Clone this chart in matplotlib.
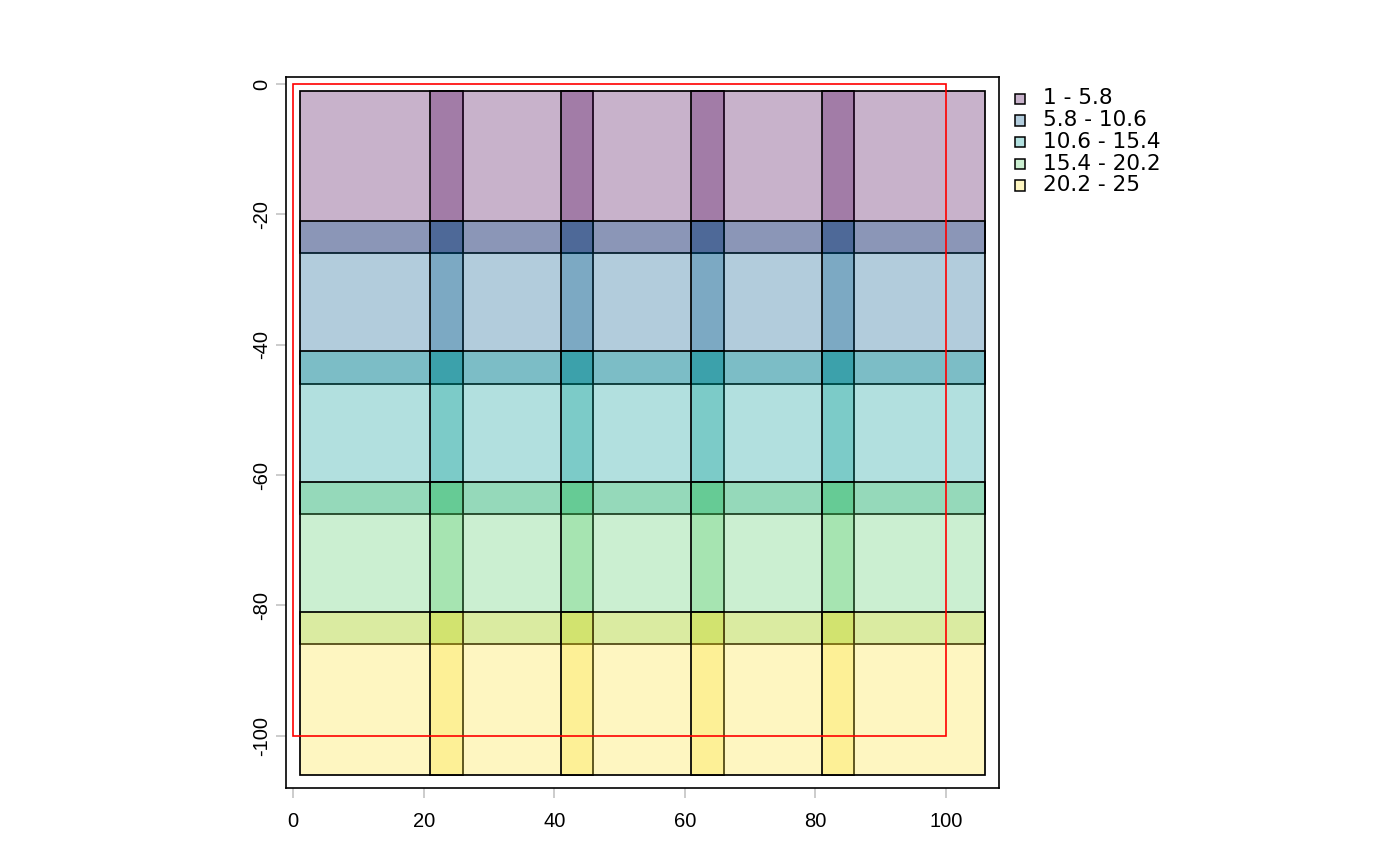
import matplotlib
matplotlib.use("Agg")
import matplotlib.pyplot as plt
from matplotlib.patches import Rectangle

plt.rcParams['font.family'] = ['Liberation Sans', 'DejaVu Sans']

# grid of 25 x 25 squares, offset so they overlap by 5 units
x_left = [1, 21, 41, 61, 81]
y_top = [-1, -21, -41, -61, -81]
cell_size = 25
values = list(range(1, 26))  # row by row, top row first

breaks = [1, 5.8, 10.6, 15.4, 20.2, 25]
class_labels = ["1 - 5.8", "5.8 - 10.6", "10.6 - 15.4", "15.4 - 20.2", "20.2 - 25"]
palette = ["#4B0055", "#00588B", "#009B95", "#53CC67", "#FDE333"]  # hcl viridis
fill_alpha = 0.3

bbox_x = [0, 100]
bbox_y = [-100, 0]

W, H = 1400, 866
fig = plt.figure(figsize=(W / 100, H / 100), dpi=100)
ax = fig.add_axes([286 / W, 1 - 788.3 / H, (999 - 286) / W, (788.3 - 76.7) / H])


def class_of(v):
    for i in range(len(breaks) - 1):
        if v <= breaks[i + 1]:
            return i
    return len(breaks) - 2


k = 0
for yt in y_top:
    for xl in x_left:
        c = palette[class_of(values[k])]
        ax.add_patch(Rectangle((xl, yt - cell_size), cell_size, cell_size,
                               facecolor=matplotlib.colors.to_rgba(c, fill_alpha),
                               edgecolor="black", linewidth=1.25))
        k += 1

ax.add_patch(Rectangle((bbox_x[0], bbox_y[0]), bbox_x[1] - bbox_x[0], bbox_y[1] - bbox_y[0],
                       facecolor="none", edgecolor="red", linewidth=1.2))

ax.set_xlim(-1.12, 108.17)
ax.set_ylim(-108.07, 1.12)
ax.set_xticks([0, 20, 40, 60, 80, 100])
ax.set_yticks([0, -20, -40, -60, -80, -100])
ax.set_yticklabels(["0", "-20", "-40", "-60", "-80", "-100"])
for s in ax.spines.values():
    s.set_linewidth(1.2)
ax.tick_params(axis="both", length=7.2, width=1.1, color="#BEBEBE", labelsize=14.5)
ax.tick_params(axis="x", pad=10)
ax.tick_params(axis="y", pad=3.5)
for lab in ax.get_yticklabels():
    lab.set_rotation(90)
    lab.set_va("center")

# legend drawn in figure pixel coordinates (text is wide in the original)
row_pitch = 21.7
for i, (lab, c) in enumerate(zip(class_labels, palette)):
    yc = 98.8 + i * row_pitch
    fig.add_artist(Rectangle(((1020 - 5.2) / W, 1 - (yc + 5.2) / H), 10.4 / W, 10.4 / H,
                             facecolor=matplotlib.colors.to_rgba(c, fill_alpha),
                             edgecolor="black", linewidth=1.1, transform=fig.transFigure))
    fig.text(1043 / W, 1 - (104.5 + i * row_pitch) / H, lab, fontsize=15.6,
             family=["DejaVu Sans"], ha="left", va="baseline")

fig.savefig("out.png", dpi=100)
